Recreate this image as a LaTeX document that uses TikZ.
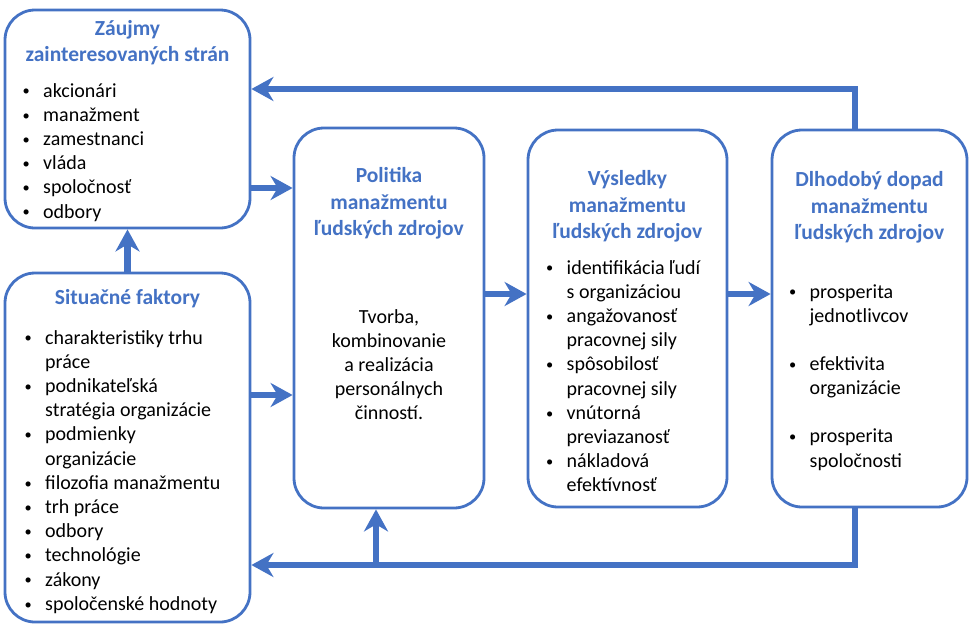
\documentclass[tikz,border=0pt]{standalone}
\usepackage{fontspec}
\setmainfont{Carlito}
\usetikzlibrary{arrows.meta}
\definecolor{accent}{HTML}{4472C4}
% bullet and continuation indent for the item lists
\newcommand{\bl}{\makebox[20.5pt][l]{\raisebox{1.2pt}{\scalebox{0.72}{\textbullet}}}}
\newcommand{\ind}{\hspace*{20.5pt}}

\begin{document}
\begin{tikzpicture}[x=1pt,y=-1pt,
  panel/.style={draw=accent, line width=2.8pt, rounded corners=30pt, fill=white, inner sep=0pt},
  flow/.style={draw=accent, line width=6.5pt, -{Stealth[length=22pt,width=24pt,inset=7pt]}},
  heading/.style={inner sep=0pt, anchor=north, text=accent, font=\bfseries\fontsize{21.5}{26.4}\selectfont},
  listing/.style={inner sep=0pt, anchor=north west, font=\fontsize{20}{24.2}\selectfont},
  body/.style={inner sep=0pt, anchor=north, font=\fontsize{20}{24.2}\selectfont},
]
\useasboundingbox (0,0) rectangle (973,625);

% boxes
\node[panel, minimum width=245pt, minimum height=218pt] (A) at (127.5,119) {};
\node[panel, minimum width=245pt, minimum height=349pt] (B) at (127.5,447.5) {};
\node[panel, minimum width=190pt, minimum height=380pt] (C) at (389,318) {};
\node[panel, minimum width=199pt, minimum height=377pt] (D) at (627.5,318.5) {};
\node[panel, minimum width=195pt, minimum height=377pt] (E) at (869.5,318.5) {};

% helper rows and columns for the connectors
\coordinate (topY) at (0,89);
\coordinate (botY) at (0,565);
\coordinate (fbX) at (855,0);
\coordinate (upX) at (376,0);
\coordinate (rowA) at (0,188);
\coordinate (rowB) at (0,395);
\coordinate (rowC) at (0,294);

% connectors
\draw[flow] (B.north) -- (A.south);
\draw[flow] (rowA -| A.east) -- (rowA -| C.west);
\draw[flow] (rowB -| B.east) -- (rowB -| C.west);
\draw[flow] (rowC -| C.east) -- (rowC -| D.west);
\draw[flow] (rowC -| D.east) -- (rowC -| E.west);
\draw[flow] (fbX |- E.north) |- (topY -| A.east);
\draw[flow] (fbX |- E.south) |- (botY -| B.east);
\draw[flow] (upX |- botY) -- (upX |- C.south);

% stakeholder interests
\node[heading] (tA) at (127.5,16.5) {\begin{tabular}{@{}c@{}}Záujmy\\zainteresovaných strán\end{tabular}};
\node[listing] (lA) at (22.5,80) {\begin{tabular}{@{}l@{}}
\bl akcionári\\
\bl manažment\\
\bl zamestnanci\\
\bl vláda\\
\bl spoločnosť\\
\bl odbory\end{tabular}};

% situational factors
\node[heading] (tB) at (127.5,286) {\begin{tabular}{@{}c@{}}Situačné faktory\end{tabular}};
\node[listing] (lB) at (24.5,327) {\begin{tabular}{@{}l@{}}
\bl charakteristiky trhu\\
\ind práce\\
\bl podnikateľská\\
\ind stratégia organizácie\\
\bl podmienky\\
\ind organizácie\\
\bl filozofia manažmentu\\
\bl trh práce\\
\bl odbory\\
\bl technológie\\
\bl zákony\\
\bl spoločenské hodnoty\end{tabular}};

% HRM policy
\node[heading] (tC) at (389,164) {\begin{tabular}{@{}c@{}}Politika\\manažmentu\\ľudských zdrojov\end{tabular}};
\node[body] (bC) at (389,306) {\begin{tabular}{@{}c@{}}Tvorba,\\kombinovanie\\a realizácia\\personálnych\\činností.\end{tabular}};

% HRM outcomes
\node[heading] (tD) at (627.5,167) {\begin{tabular}{@{}c@{}}Výsledky\\manažmentu\\ľudských zdrojov\end{tabular}};
\node[listing] (lD) at (546,257) {\begin{tabular}{@{}l@{}}
\bl identifikácia ľudí\\
\ind s organizáciou\\
\bl angažovanosť\\
\ind pracovnej sily\\
\bl spôsobilosť\\
\ind pracovnej sily\\
\bl vnútorná\\
\ind previazanosť\\
\bl nákladová\\
\ind efektívnosť\end{tabular}};

% long-term consequences
\node[heading] (tE) at (869.5,168) {\begin{tabular}{@{}c@{}}Dlhodobý dopad\\manažmentu\\ľudských zdrojov\end{tabular}};
\node[listing] (lE) at (789,281) {\begin{tabular}{@{}l@{}}
\bl prosperita\\
\ind jednotlivcov\\[24pt]
\bl efektivita\\
\ind organizácie\\[24pt]
\bl prosperita\\
\ind spoločnosti\end{tabular}};
\end{tikzpicture}
\end{document}
